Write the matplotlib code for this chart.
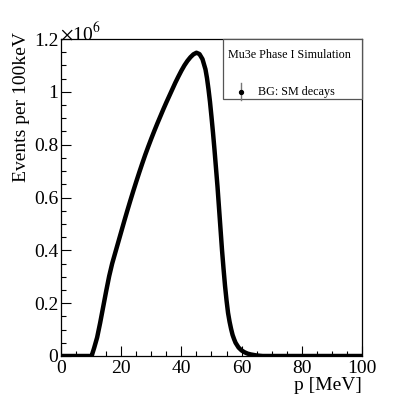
import matplotlib
matplotlib.use("Agg")
import matplotlib.pyplot as plt
from matplotlib.patches import Rectangle
from matplotlib.lines import Line2D
from matplotlib.ticker import MultipleLocator, FuncFormatter

plt.rcParams['font.family'] = ['Liberation Serif', 'DejaVu Serif']
plt.rcParams['mathtext.fontset'] = 'stix'

# momentum (MeV) and events per 100 keV (in units of 10^6)
p_mev = [0, 5, 10, 10.2, 10.5, 11, 12, 13, 14, 15, 16, 17, 18, 19, 20, 21, 22, 23,
         24, 25, 26, 27, 28, 29, 30, 31, 32, 33, 34, 35, 36, 37, 38, 39, 40, 41, 42,
         43, 44, 45, 46, 47, 48, 48.5, 49, 49.5, 50, 50.5, 51, 51.5, 52, 52.5, 53,
         53.5, 54, 54.5, 55, 55.5, 56, 56.5, 57, 57.5, 58, 59, 60, 61, 62, 63, 64,
         65, 66, 67, 80, 100]
events_1e6 = [0, 0, 0, 0, 0.012, 0.03, 0.07, 0.125, 0.185, 0.245, 0.302, 0.35,
              0.39, 0.43, 0.47, 0.51, 0.549, 0.587, 0.624, 0.66, 0.695, 0.729,
              0.762, 0.793, 0.823, 0.852, 0.88, 0.907, 0.934, 0.96, 0.985, 1.01,
              1.035, 1.058, 1.08, 1.1, 1.117, 1.131, 1.142, 1.148, 1.143, 1.124,
              1.085, 1.052, 1.01, 0.962, 0.905, 0.845, 0.78, 0.71, 0.64, 0.56,
              0.48, 0.4, 0.33, 0.265, 0.21, 0.163, 0.13, 0.103, 0.08, 0.064, 0.05,
              0.032, 0.021, 0.014, 0.009, 0.006, 0.004, 0.002, 0.001, 0, 0, 0]

x_ticks = [0, 20, 40, 60, 80, 100]
y_ticks = [0, 0.2, 0.4, 0.6, 0.8, 1.0, 1.2]

W, H = 407, 396
fig = plt.figure(figsize=(W / 100, H / 100), dpi=100)
L, R, T, B = 61, 362, 39, 356
ax = fig.add_axes([L / W, 1 - B / H, (R - L) / W, (B - T) / H])

ax.plot(p_mev, events_1e6, color='black', lw=3.2, solid_joinstyle='round',
        solid_capstyle='butt', clip_on=True)

ax.set_xlim(0, 100)
ax.set_ylim(0, 1.2)
ax.set_xticks(x_ticks)
ax.set_yticks(y_ticks)
ax.xaxis.set_minor_locator(MultipleLocator(5))
ax.yaxis.set_minor_locator(MultipleLocator(0.05))
ax.yaxis.set_major_formatter(FuncFormatter(lambda v, pos: ('%g' % round(v, 2))))
ax.tick_params(which='both', direction='in', top=False, right=False, labelsize=14,
               width=0.8)
ax.tick_params(axis='x', which='major', length=7, pad=3)
ax.tick_params(axis='x', which='minor', length=3.5)
ax.tick_params(axis='y', which='major', length=7, pad=2)
ax.tick_params(axis='y', which='minor', length=3.5)
for s in ax.spines.values():
    s.set_linewidth(0.9)

fig.text(L / W - 0.002, 1 - 33 / H, r'$\times$10$^{6}$', fontsize=14,
         ha='left', va='center')
fig.text(21.5 / W, 1 - 32 / H, 'Events per 100keV', fontsize=14, rotation=90,
         ha='center', va='top')
fig.text(R / W, 1 - 385 / H, 'p [MeV]', fontsize=14, ha='right', va='center')

# legend box
lx0, ly0, lx1, ly1 = 223, 39, 362, 99
fig.add_artist(Rectangle((lx0 / W, 1 - ly1 / H), (lx1 - lx0) / W, (ly1 - ly0) / H,
                         transform=fig.transFigure, facecolor='white',
                         edgecolor='#555555', lw=0.9))
fig.text(227.5 / W, 1 - 55 / H, 'Mu3e Phase I Simulation', fontsize=8.7,
         ha='left', va='center')
fig.add_artist(Line2D([240.5 / W, 240.5 / W], [1 - 83 / H, 1 - 100 / H],
                      transform=fig.transFigure, color='#777777', lw=1))
fig.add_artist(Line2D([240.5 / W], [1 - 91.7 / H], transform=fig.transFigure,
                      marker='o', markersize=2.8, color='black', lw=0))
fig.text(258 / W, 1 - 91.5 / H, 'BG: SM decays', fontsize=8.7, ha='left',
         va='center')

fig.savefig('out.png', dpi=100)
